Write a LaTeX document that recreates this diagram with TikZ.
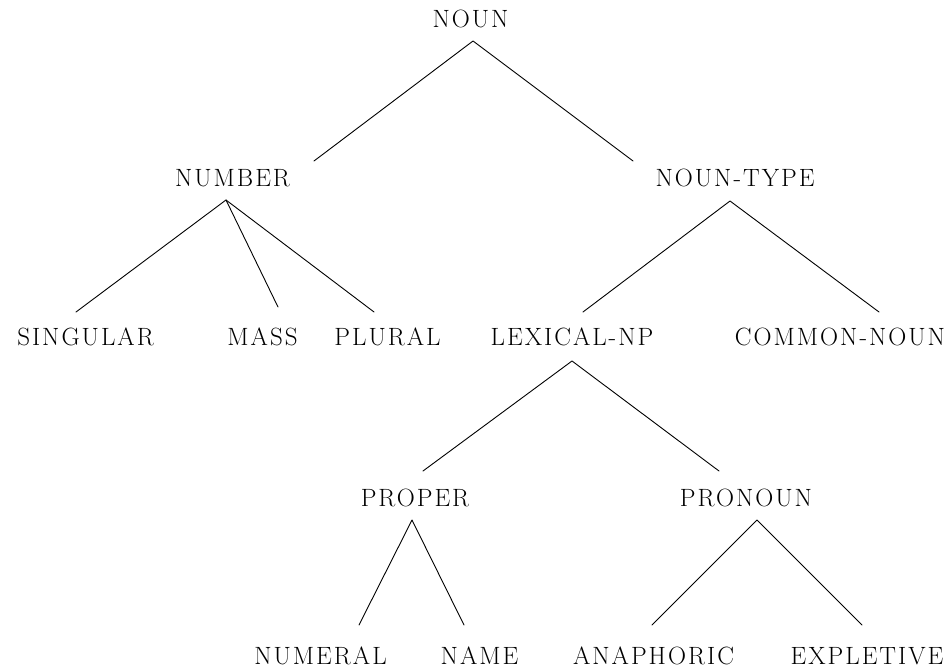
\documentclass[tikz,border=0pt]{standalone}
\usepackage{fontspec}
\newfontfamily\catfont{Latin Modern Roman}[LetterSpace=8]
\begin{document}
\begin{tikzpicture}[x=1pt,y=-1pt,
  cat/.style={anchor=base,inner sep=0pt,font=\catfont\fontsize{25}{30}\selectfont},
  branch/.style={line width=0.9pt,line cap=round,line join=round}]
\useasboundingbox (0,0) rectangle (948,668);

% category labels
\node[cat] (noun)    at (470.5,28)  {NOUN};
\node[cat] (number)  at (232.5,187) {NUMBER};
\node[cat] (ntype)   at (735,187)   {NOUN-TYPE};
\node[cat] (sing)    at (85.5,345)  {SINGULAR};
\node[cat] (mass)    at (262.5,345) {MASS};
\node[cat] (plural)  at (387.5,345) {PLURAL};
\node[cat] (lexnp)   at (572,345)   {LEXICAL-NP};
\node[cat] (common)  at (840,345)   {COMMON-NOUN};
\node[cat] (proper)  at (415,506)   {PROPER};
\node[cat] (pronoun) at (746,506)   {PRONOUN};
\node[cat] (numeral) at (320.5,664.5) {NUMERAL};
\node[cat] (name)    at (479.5,664.5) {NAME};
\node[cat] (anaph)   at (653.5,664.5) {ANAPHORIC};
\node[cat] (expl)    at (867,664.5)   {EXPLETIVE};

% branches
\draw[branch] ([shift={(81.5,-26)}]number.base) -- ([shift={(2.5,13)}]noun.base) -- ([shift={(-102,-26)}]ntype.base);
\draw[branch] ([shift={(-9.5,-33)}]sing.base) -- ([shift={(-6.5,13)}]number.base) -- ([shift={(-13.5,-33)}]plural.base);
\draw[branch] ([shift={(-6.5,13)}]number.base) -- ([shift={(15.5,-38)}]mass.base);
\draw[branch] ([shift={(11,-33)}]lexnp.base) -- ([shift={(-5,14)}]ntype.base) -- ([shift={(39,-33)}]common.base);
\draw[branch] ([shift={(8,-35)}]proper.base) -- ([shift={(0,16)}]lexnp.base) -- ([shift={(-27,-35)}]pronoun.base);
\draw[branch] ([shift={(38.5,-39.5)}]numeral.base) -- ([shift={(-3,14)}]proper.base) -- ([shift={(-15.5,-39.5)}]name.base);
\draw[branch] ([shift={(-1.5,-39.5)}]anaph.base) -- ([shift={(11,14)}]pronoun.base) -- ([shift={(-5,-39.5)}]expl.base);
\end{tikzpicture}
\end{document}
